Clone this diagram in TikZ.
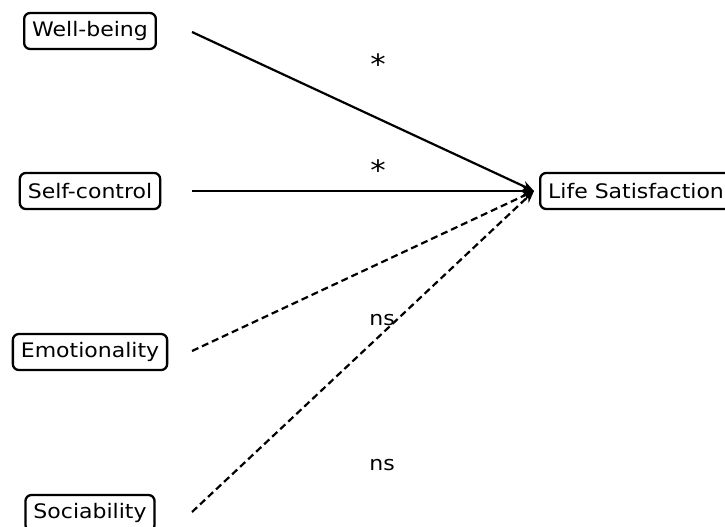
\documentclass[tikz,border=0pt]{standalone}
\usepackage{fontspec}
\setmainfont[FakeStretch=1.1]{DejaVu Sans}
\usepackage{tikz}
\usetikzlibrary{arrows.meta}

\tikzset{
    varbox/.style={draw=black, rounded corners=6pt, line width=2.3pt, inner xsep=8pt, minimum height=36pt, font=\fontsize{20}{24}\selectfont},
    path/.style={line width=2.2pt, -{Stealth[length=12pt,width=10pt]}},
    nspath/.style={path, dash pattern=on 7pt off 4pt},
    sig/.style={font=\fontsize{20}{24}\selectfont},
    star/.style={font=\fontsize{28}{30}\selectfont}
}

\begin{document}
\begin{tikzpicture}[x=1pt,y=-1pt]
                \useasboundingbox (0,0) rectangle (725,527);
                
                % Predictors
                \node[varbox] (wb) at (90, 31) {Well-being};
                \node[varbox] (sc) at (90, 191) {Self-control};
                \node[varbox] (em) at (90, 352) {Emotionality};
                \node[varbox] (so) at (90, 513) {Sociability};
                
                % Outcome
                \node[varbox, anchor=west] (ls) at (539, 191) {Life Satisfaction};
                \coordinate (ls-in) at ([xshift=-5pt]ls.west);
                
                % Start points of the paths
                \coordinate (wb-out) at (192, 32);
                \coordinate (sc-out) at (192, 191);
                \coordinate (em-out) at (192, 351);
                \coordinate (so-out) at (192, 512);
                
                % Significant paths
                \draw[path] (wb-out) -- (ls-in);
                \draw[path] (sc-out) -- (ls-in);
                % Non significant paths
                \draw[nspath] (em-out) -- (ls-in);
                \draw[nspath] (so-out) -- (ls-in);
                
                % Labels
                \node[star] (wb-lab) at (378, 64) {*};
                \node[star] (sc-lab) at (378, 170) {*};
                \node[sig] (em-lab) at (382, 320) {ns};
                \node[sig] (so-lab) at (382, 465) {ns};
            \end{tikzpicture}
\end{document}
